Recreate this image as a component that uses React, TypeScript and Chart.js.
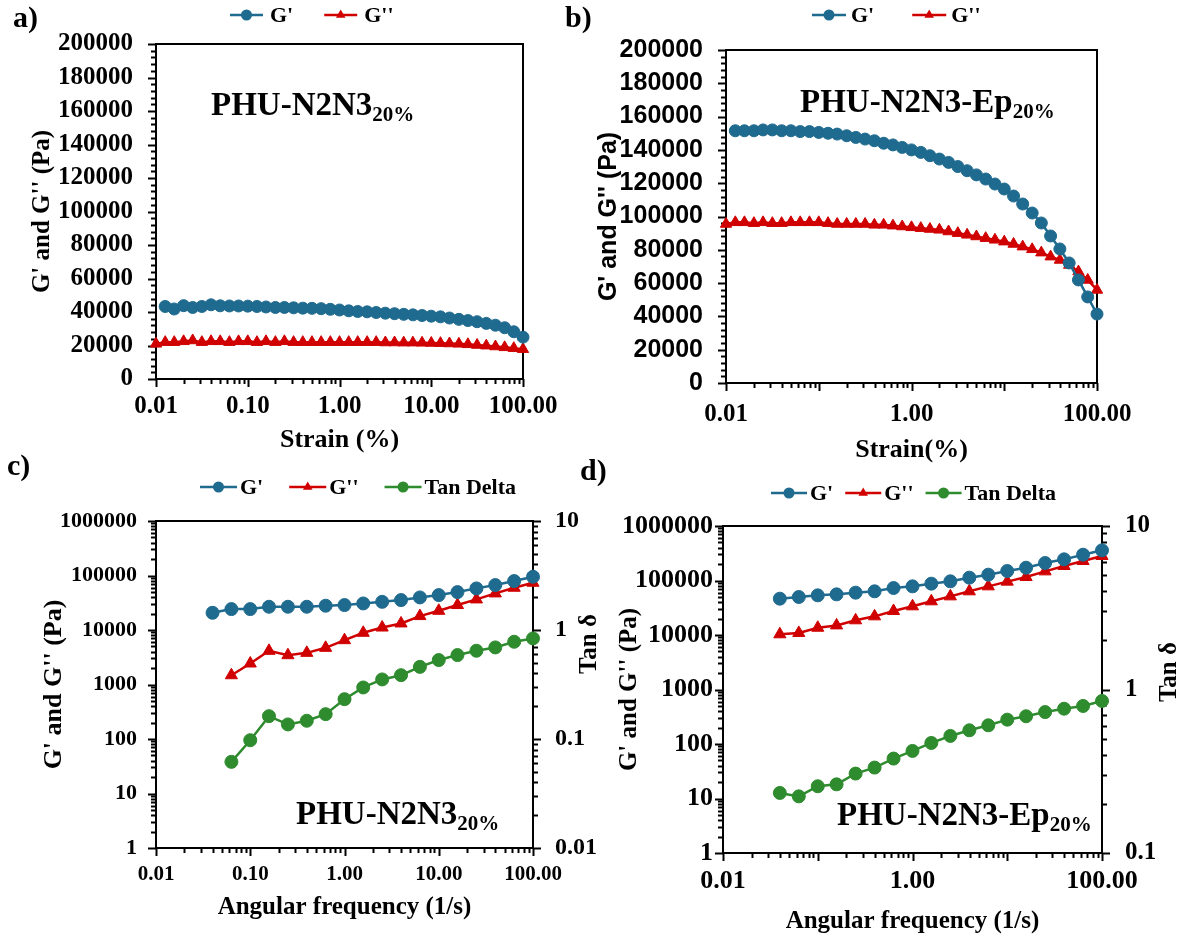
import React, { useEffect, useRef } from 'react';
import { Chart, registerables } from 'chart.js';

Chart.register(...registerables);

const SERIF = '"Liberation Serif", "Times New Roman", serif';
const SANS = '"Liberation Sans", Arial, sans-serif';
const BLUE = '#1f6a8f';
const RED = '#d00000';
const GREEN = '#2e8b2e';
const BLACK = '#000000';

// ---------------- data ----------------
// a) strain sweep, PHU-N2N3 20%
const strainA = [0.01, 0.0126, 0.0158, 0.02, 0.0251, 0.0316, 0.0398, 0.0501, 0.0631, 0.0794, 0.1, 0.126, 0.158, 0.2, 0.251, 0.316, 0.398, 0.501, 0.631, 0.794, 1, 1.26, 1.58, 2, 2.51, 3.16, 3.98, 5.01, 6.31, 7.94, 10, 12.6, 15.8, 20, 25.1, 31.6, 39.8, 50.1, 63.1, 79.4, 100];
const gPrimeA = [null, 43300, 41800, 43800, 42700, 43300, 44300, 43700, 43600, 43600, 43500, 43300, 43000, 42700, 42700, 42500, 42300, 42200, 42000, 41600, 41200, 40700, 40300, 40100, 39700, 39300, 39000, 38600, 38300, 37900, 37500, 37100, 36400, 35600, 34900, 34200, 33200, 32100, 30600, 28200, 25000];
const gDoublePrimeA = [21000, 22000, 22000, 22500, 23000, 22000, 22500, 22500, 22000, 22500, 22500, 22000, 22500, 22000, 22500, 22000, 22000, 22000, 22000, 22000, 22000, 22000, 22000, 22000, 22000, 21800, 21800, 21700, 21700, 21600, 21500, 21400, 21200, 21000, 20700, 20300, 19900, 19400, 18900, 18400, 17800];

// b) strain sweep, PHU-N2N3-Ep 20%
const strainB = [0.01, 0.0126, 0.0158, 0.02, 0.0251, 0.0316, 0.0398, 0.0501, 0.0631, 0.0794, 0.1, 0.126, 0.158, 0.2, 0.251, 0.316, 0.398, 0.501, 0.631, 0.794, 1, 1.26, 1.58, 2, 2.51, 3.16, 3.98, 5.01, 6.31, 7.94, 10, 12.6, 15.8, 20, 25.1, 31.6, 39.8, 50.1, 63.1, 79.4, 100];
const gPrimeB = [null, 151500, 151500, 151500, 152000, 152000, 151500, 151500, 151000, 151000, 150500, 150000, 149500, 148500, 147500, 146500, 145500, 144000, 143000, 141500, 140000, 138500, 136500, 134500, 132500, 130000, 127500, 125000, 122500, 119500, 116500, 112300, 107500, 102100, 96100, 88300, 80500, 72100, 61900, 51700, 41400];
const gDoublePrimeB = [95500, 96500, 96500, 96000, 96500, 96000, 96000, 96500, 96500, 96500, 96500, 96000, 95500, 95500, 95500, 95500, 95000, 95000, 94500, 94000, 93500, 93000, 92500, 92000, 91000, 90000, 89000, 88000, 87000, 86000, 84900, 83500, 81900, 80300, 78300, 75900, 73900, 70900, 66900, 61900, 55900];

// c) frequency sweep, PHU-N2N3 20%
const freqC = [0.0398, 0.0631, 0.1, 0.158, 0.251, 0.398, 0.631, 1, 1.58, 2.51, 3.98, 6.31, 10, 15.8, 25.1, 39.8, 63.1, 100];
const gPrimeC = [20700, 24200, 24200, 26700, 26700, 26700, 27900, 28700, 30700, 32900, 35400, 39600, 43700, 49600, 58000, 66700, 79000, 94800];
const gDoublePrimeC = [null, 1480, 2430, 4150, 3450, 3810, 4710, 6510, 8890, 11100, 13200, 18000, 22500, 28700, 36400, 46900, 59600, 73600];
const tanDeltaC = [null, 0.0617, 0.0975, 0.162, 0.136, 0.147, 0.169, 0.232, 0.297, 0.352, 0.385, 0.459, 0.53, 0.589, 0.645, 0.692, 0.78, 0.837];

// d) frequency sweep, PHU-N2N3-Ep 20%
const freqD = [0.0398, 0.0631, 0.1, 0.158, 0.251, 0.398, 0.631, 1, 1.58, 2.51, 3.98, 6.31, 10, 15.8, 25.1, 39.8, 63.1, 100];
const gPrimeD = [46400, 49800, 53400, 55700, 59800, 63300, 72800, 78100, 87500, 96600, 112800, 128000, 149300, 171800, 209300, 244400, 297600, 357900];
const gDoublePrimeD = [10300, 10900, 13600, 15000, 18600, 22000, 27600, 33600, 41500, 51200, 63300, 78100, 95300, 116000, 147100, 184400, 228000, 281800];
const tanDeltaD = [0.233, 0.222, 0.256, 0.263, 0.306, 0.333, 0.378, 0.421, 0.471, 0.52, 0.563, 0.604, 0.654, 0.686, 0.728, 0.763, 0.793, 0.851];

// tick labels
const strainLabelsA = [0.01, 0.1, 1, 10, 100];
const strainLabelsB = [0.01, 1, 100];
const freqLabelsC = [0.01, 0.1, 1, 10, 100];
const freqLabelsD = [0.01, 1, 100];
const modulusLinearLabels = [0, 20000, 40000, 60000, 80000, 100000, 120000, 140000, 160000, 180000, 200000];
const modulusLogLabels = [1, 10, 100, 1000, 10000, 100000, 1000000];
const tanLabelsC = [0.01, 0.1, 1, 10];
const tanLabelsD = [0.1, 1, 10];
const xDecades = [0.01, 0.1, 1, 10, 100];

// ---------------- helpers ----------------
const toPoints = (xs: number[], ys: (number | null)[]) =>
  xs.map((x, i) => ({ x, y: ys[i] })).filter((p) => p.y !== null && p.y !== undefined);

function logMinorValues(min: number, max: number) {
  const out: number[] = [];
  const e0 = Math.round(Math.log10(min));
  const e1 = Math.round(Math.log10(max));
  for (let e = e0; e < e1; e++) for (let m = 2; m <= 9; m++) out.push(m * Math.pow(10, e));
  return out;
}
function linMinorValues(min: number, max: number, step: number, majorStep: number) {
  const out: number[] = [];
  for (let v = min; v <= max; v += step) if (v % majorStep !== 0) out.push(v);
  return out;
}

const bold = (family: string, size: number) => ({ family, size, weight: 'bold' as const, lineHeight: 1.2 });
const fixWidth = (w: number) => (s: any) => {
  s.width = w; s.paddingTop = 0; s.paddingBottom = 0; s.paddingLeft = 0; s.paddingRight = 0;
};
const fixHeight = (h: number) => (s: any) => {
  s.height = h; s.paddingTop = 0; s.paddingBottom = 0; s.paddingLeft = 0; s.paddingRight = 0;
};
const setTicks = (vals: number[]) => (s: any) => {
  s.ticks = vals.map((v) => ({ value: v }));
};

function dataset(label: string, xs: number[], ys: (number | null)[], color: string, style: string, radius: number, yAxisID = 'y') {
  return {
    label,
    data: toPoints(xs, ys),
    borderColor: color,
    backgroundColor: color,
    pointBackgroundColor: color,
    pointBorderColor: color,
    pointStyle: style,
    pointRadius: radius,
    pointBorderWidth: 1,
    borderWidth: 2.5,
    showLine: true,
    tension: 0,
    clip: false,
    yAxisID,
  };
}

function xAxis(o: any) {
  return {
    type: 'logarithmic',
    position: 'bottom',
    min: 0.01,
    max: 100,
    afterBuildTicks: setTicks(o.labels),
    afterFit: fixHeight(85),
    grid: { display: false, drawTicks: false },
    border: { display: false },
    ticks: {
      autoSkip: false, maxRotation: 0, minRotation: 0, padding: o.pad, color: BLACK,
      font: bold(SERIF, o.size),
      callback: (v: any) => Number(v).toFixed(2),
    },
    title: {
      display: true, text: o.title, color: BLACK, font: bold(SERIF, o.titleSize),
      padding: { top: 0, bottom: o.titlePad },
    },
  };
}

function yAxis(o: any) {
  return {
    type: o.type,
    position: o.position,
    min: o.min,
    max: o.max,
    afterBuildTicks: setTicks(o.labels),
    afterFit: fixWidth(o.width),
    grid: { display: false, drawTicks: false },
    border: { display: false },
    ticks: {
      autoSkip: false, padding: o.pad, color: BLACK, font: bold(o.family, o.size),
      callback: (v: any) => String(v),
    },
    title: o.title
      ? { display: true, text: o.title, color: BLACK, font: bold(o.family, o.titleSize), padding: { top: o.titlePad, bottom: 0 } }
      : { display: false },
  };
}

function drawMarker(ctx: CanvasRenderingContext2D, style: string, x: number, y: number, r: number, color: string) {
  ctx.save();
  ctx.fillStyle = color;
  ctx.beginPath();
  if (style === 'triangle') {
    let rad = 0;
    ctx.moveTo(x + Math.sin(rad) * r, y - Math.cos(rad) * r);
    rad += (2 * Math.PI) / 3;
    ctx.lineTo(x + Math.sin(rad) * r, y - Math.cos(rad) * r);
    rad += (2 * Math.PI) / 3;
    ctx.lineTo(x + Math.sin(rad) * r, y - Math.cos(rad) * r);
    ctx.closePath();
  } else {
    ctx.arc(x, y, r, 0, Math.PI * 2);
  }
  ctx.fill();
  ctx.restore();
}

function decor(cfg: any) {
  return {
    id: 'decor',
    beforeDatasetsDraw(chart: any) {
      const { ctx, chartArea: a } = chart;
      ctx.save();
      ctx.strokeStyle = BLACK;
      ctx.lineWidth = 2;
      ctx.lineCap = 'butt';
      for (const t of cfg.ticks) {
        const s = chart.scales[t.id];
        const draw = (v: number, len: number) => {
          const p = Math.round(s.getPixelForValue(v)) + 0.5;
          ctx.beginPath();
          if (t.side === 'bottom') { ctx.moveTo(p, a.bottom); ctx.lineTo(p, a.bottom + len); }
          else if (t.side === 'left') { ctx.moveTo(a.left, p); ctx.lineTo(a.left - len, p); }
          else { ctx.moveTo(a.right, p); ctx.lineTo(a.right + len, p); }
          ctx.stroke();
        };
        t.majors.forEach((v: number) => draw(v, 8));
        t.minors.forEach((v: number) => draw(v, 5));
      }
      ctx.lineWidth = 2;
      ctx.strokeRect(a.left, a.top, a.right - a.left, a.bottom - a.top);
      ctx.restore();
    },
    afterDraw(chart: any) {
      const { ctx } = chart;
      ctx.save();
      ctx.fillStyle = BLACK;
      ctx.textAlign = 'left';
      // panel letter
      ctx.textBaseline = 'alphabetic';
      ctx.font = `bold 30px ${SERIF}`;
      ctx.fillText(cfg.panel.text, cfg.panel.x, cfg.panel.y);
      // legend
      const lg = cfg.legend;
      ctx.font = `bold ${lg.size}px ${SERIF}`;
      ctx.textBaseline = 'middle';
      let x = lg.x;
      chart.data.datasets.forEach((ds: any) => {
        ctx.strokeStyle = ds.borderColor;
        ctx.lineWidth = 2.5;
        ctx.beginPath();
        ctx.moveTo(x, lg.y);
        ctx.lineTo(x + lg.lineLen, lg.y);
        ctx.stroke();
        drawMarker(ctx, ds.pointStyle, x + lg.lineLen / 2, lg.y, lg.r, ds.borderColor);
        x += lg.lineLen + lg.gap;
        ctx.fillStyle = BLACK;
        ctx.fillText(ds.label, x, lg.y + 1);
        x += ctx.measureText(ds.label).width + lg.itemGap;
      });
      // sample annotation with subscript
      const n = cfg.note;
      ctx.textBaseline = 'alphabetic';
      ctx.font = `bold ${n.size}px ${SERIF}`;
      ctx.fillText(n.main, n.x, n.y);
      const w = ctx.measureText(n.main).width;
      ctx.font = `bold ${n.subSize}px ${SERIF}`;
      ctx.fillText(n.sub, n.x + w, n.y + n.subDy);
      // right axis title
      if (cfg.tanTitle) {
        const t = cfg.tanTitle;
        ctx.translate(t.x, t.y);
        ctx.rotate(-Math.PI / 2);
        ctx.textAlign = 'center';
        ctx.textBaseline = 'middle';
        ctx.font = `bold ${t.size}px ${SERIF}`;
        ctx.fillText(t.text, 0, 0);
      }
      ctx.restore();
    },
  };
}

const baseOptions = (padding: any) => ({
  responsive: false,
  maintainAspectRatio: false,
  animation: false,
  events: [],
  devicePixelRatio: 1,
  layout: { padding, autoPadding: false },
  plugins: { legend: { display: false }, tooltip: { enabled: false } },
});

// ---------------- chart configs ----------------
function makeA() {
  return {
    type: 'scatter',
    data: {
      datasets: [
        dataset("G'", strainA, gPrimeA, BLUE, 'circle', 6),
        dataset("G''", strainA, gDoublePrimeA, RED, 'triangle', 6.5),
      ],
    },
    options: {
      ...baseOptions({ left: 16, right: 662, top: 44, bottom: 474 }),
      scales: {
        x: xAxis({ labels: strainLabelsA, pad: 13, size: 25, title: 'Strain (%)', titleSize: 26, titlePad: 8 }),
        y: yAxis({ type: 'linear', position: 'left', min: 0, max: 200000, labels: modulusLinearLabels, width: 140, pad: 23, size: 25, family: SERIF, title: "G' and G'' (Pa)", titleSize: 25, titlePad: 12 }),
      },
    },
    plugins: [decor({
      ticks: [
        { id: 'x', side: 'bottom', majors: xDecades, minors: logMinorValues(0.01, 100) },
        { id: 'y', side: 'left', majors: modulusLinearLabels, minors: linMinorValues(0, 200000, 4000, 20000) },
      ],
      panel: { text: 'a)', x: 13, y: 27 },
      legend: { x: 230, y: 15, lineLen: 33, gap: 7, itemGap: 31, size: 22, r: 5.5 },
      note: { main: 'PHU-N2N3', sub: '20%', x: 211, y: 115, size: 33, subSize: 21, subDy: 6 },
    })],
  };
}

function makeB() {
  return {
    type: 'scatter',
    data: {
      datasets: [
        dataset("G'", strainB, gPrimeB, BLUE, 'circle', 6),
        dataset("G''", strainB, gDoublePrimeB, RED, 'triangle', 6.5),
      ],
    },
    options: {
      ...baseOptions({ left: 586, right: 88, top: 50, bottom: 470 }),
      scales: {
        x: xAxis({ labels: strainLabelsB, pad: 17, size: 25, title: 'Strain(%)', titleSize: 26, titlePad: 2 }),
        y: yAxis({ type: 'linear', position: 'left', min: 0, max: 200000, labels: modulusLinearLabels, width: 140, pad: 23, size: 25, family: SANS, title: "G' and G'' (Pa)", titleSize: 25, titlePad: 8 }),
      },
    },
    plugins: [decor({
      ticks: [
        { id: 'x', side: 'bottom', majors: xDecades, minors: logMinorValues(0.01, 100) },
        { id: 'y', side: 'left', majors: modulusLinearLabels, minors: linMinorValues(0, 200000, 4000, 20000) },
      ],
      panel: { text: 'b)', x: 565, y: 27 },
      legend: { x: 812, y: 15, lineLen: 34, gap: 5, itemGap: 38, size: 22, r: 5.5 },
      note: { main: 'PHU-N2N3-Ep', sub: '20%', x: 800, y: 112, size: 33, subSize: 21, subDy: 6 },
    })],
  };
}

function makeC() {
  return {
    type: 'scatter',
    data: {
      datasets: [
        dataset("G'", freqC, gPrimeC, BLUE, 'circle', 6.5),
        dataset("G''", freqC, gDoublePrimeC, RED, 'triangle', 7),
        dataset('Tan Delta', freqC, tanDeltaC, GREEN, 'circle', 6.5, 'y1'),
      ],
    },
    options: {
      ...baseOptions({ left: 16, right: 552, top: 521, bottom: 5 }),
      scales: {
        x: xAxis({ labels: freqLabelsC, pad: 14, size: 21, title: 'Angular frequency (1/s)', titleSize: 25, titlePad: 10 }),
        y: yAxis({ type: 'logarithmic', position: 'left', min: 1, max: 1000000, labels: modulusLogLabels, width: 140, pad: 19, size: 22, family: SERIF, title: "G' and G'' (Pa)", titleSize: 26, titlePad: 23 }),
        y1: yAxis({ type: 'logarithmic', position: 'right', min: 0.01, max: 10, labels: tanLabelsC, width: 100, pad: 22, size: 24, family: SERIF, title: null }),
      },
    },
    plugins: [decor({
      ticks: [
        { id: 'x', side: 'bottom', majors: xDecades, minors: logMinorValues(0.01, 100) },
        { id: 'y', side: 'left', majors: modulusLogLabels, minors: logMinorValues(1, 1000000) },
        { id: 'y1', side: 'right', majors: tanLabelsC, minors: logMinorValues(0.01, 10) },
      ],
      panel: { text: 'c)', x: 7, y: 475 },
      legend: { x: 200, y: 487, lineLen: 37, gap: 3, itemGap: 26, size: 22, r: 5.5 },
      note: { main: 'PHU-N2N3', sub: '20%', x: 296, y: 824, size: 33, subSize: 21, subDy: 6 },
      tanTitle: { text: 'Tan δ', x: 590, y: 644, size: 25 },
    })],
  };
}

function makeD() {
  return {
    type: 'scatter',
    data: {
      datasets: [
        dataset("G'", freqD, gPrimeD, BLUE, 'circle', 6.5),
        dataset("G''", freqD, gDoublePrimeD, RED, 'triangle', 7),
        dataset('Tan Delta', freqD, tanDeltaD, GREEN, 'circle', 6.5, 'y1'),
      ],
    },
    options: {
      ...baseOptions({ left: 583, right: 3, top: 526, bottom: 0 }),
      scales: {
        x: xAxis({ labels: freqLabelsD, pad: 13, size: 26, title: 'Angular frequency (1/s)', titleSize: 25, titlePad: 1 }),
        y: yAxis({ type: 'logarithmic', position: 'left', min: 1, max: 1000000, labels: modulusLogLabels, width: 140, pad: 10, size: 26, family: SERIF, title: "G' and G'' (Pa)", titleSize: 25, titlePad: 32 }),
        y1: yAxis({ type: 'logarithmic', position: 'right', min: 0.1, max: 10, labels: tanLabelsD, width: 80, pad: 23, size: 25, family: SERIF, title: null }),
      },
    },
    plugins: [decor({
      ticks: [
        { id: 'x', side: 'bottom', majors: xDecades, minors: logMinorValues(0.01, 100) },
        { id: 'y', side: 'left', majors: modulusLogLabels, minors: logMinorValues(1, 1000000) },
        { id: 'y1', side: 'right', majors: tanLabelsD, minors: logMinorValues(0.1, 10) },
      ],
      panel: { text: 'd)', x: 580, y: 480 },
      legend: { x: 771, y: 493, lineLen: 36, gap: 3, itemGap: 12, size: 22, r: 5.5 },
      note: { main: 'PHU-N2N3-Ep', sub: '20%', x: 837, y: 825, size: 33, subSize: 21, subDy: 6 },
      tanTitle: { text: 'Tan δ', x: 1170, y: 672, size: 25 },
    })],
  };
}

function ChartLayer({ make }: { make: () => any }) {
  const ref = useRef<HTMLCanvasElement>(null);
  useEffect(() => {
    const chart = new Chart(ref.current as HTMLCanvasElement, make());
    return () => chart.destroy();
  }, [make]);
  return (
    <canvas
      ref={ref}
      width={1185}
      height={938}
      style={{ position: 'absolute', left: 0, top: 0, width: 1185, height: 938 }}
    />
  );
}

export default function App() {
  return (
    <div style={{ position: 'absolute', left: 0, top: 0, width: 1185, height: 938, background: '#ffffff', overflow: 'hidden' }}>
      <ChartLayer make={makeA} />
      <ChartLayer make={makeB} />
      <ChartLayer make={makeC} />
      <ChartLayer make={makeD} />
    </div>
  );
}
